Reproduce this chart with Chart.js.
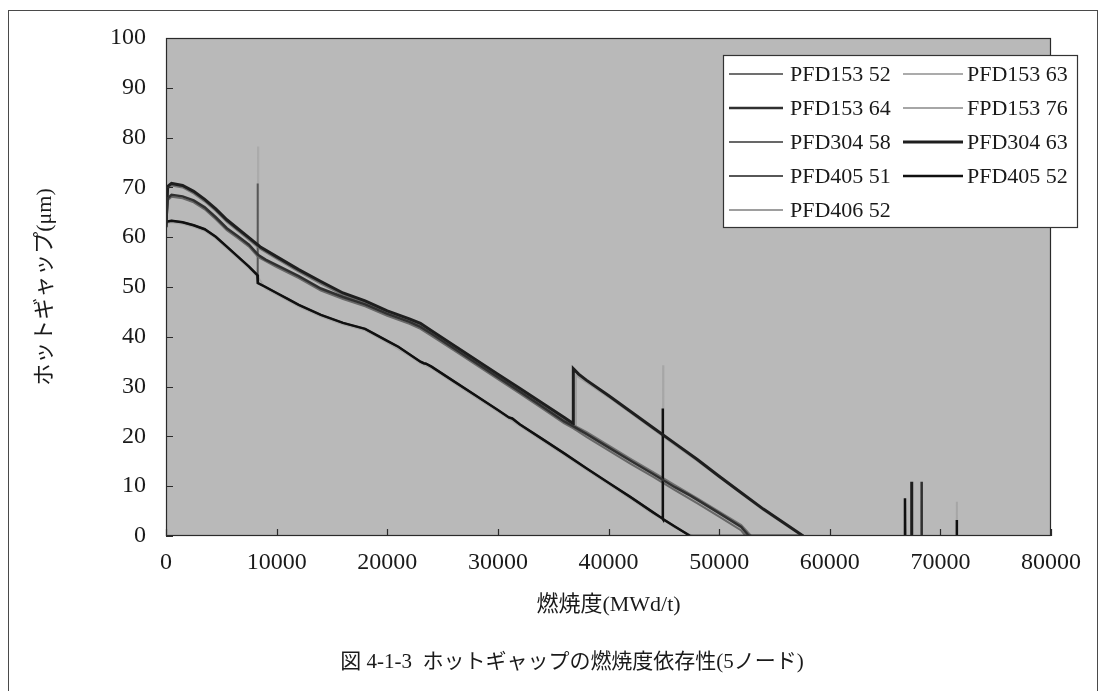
<!DOCTYPE html>
<html>
<head>
<meta charset="utf-8">
<script src="https://cdn.jsdelivr.net/npm/chart.js@4.4.1/dist/chart.umd.min.js"></script>
<style>
  html, body { margin: 0; padding: 0; background: #fff; }
  #wrap { width: 1105px; height: 691px; position: relative; }
</style>
</head>
<body>
<div id="wrap"><canvas id="c" width="1105" height="691"></canvas></div>
<script>
// Burnup (MWd/t) and hot gap (μm) per fuel rod, 5th node.
const bu_153_52 = [0,150,500,1500,2500,3500,4500,5500,6500,7500,8500,10000,12000,14000,16000,18000,20000,22000,23000,24000,26000,28000,30000,32000,34000,36000,36800,38000,40000,42000,44000,46000,48000,50000,52000,52900];
const gap_153_52 = [62.0,69.8,70.4,70.0,68.8,67.2,65.3,63.1,61.3,59.5,57.7,55.7,53.1,50.7,48.4,46.8,44.8,43.2,42.3,40.8,37.9,35.0,32.1,29.2,26.3,23.4,22.3,20.9,18.2,15.5,12.9,10.2,7.6,4.9,2.2,0];

const bu_153_63 = [0,150,500,1500,2500,3500,4500,5500,6500,7500,8300,8320,8340,10000,12000,14000,16000,18000,20000,22000,23000,24000,26000,28000,30000,32000,34000,36000,36830,38000,40000,42000,44000,46000,48000,50000,52000,52800];
const gap_153_63 = [61.8,67.5,68.2,67.9,67.1,65.7,63.7,61.5,59.9,58.2,56.6,78.2,56.4,54.2,52.0,49.5,47.8,46.3,44.4,42.8,41.8,40.4,37.5,34.6,31.7,28.8,25.8,22.8,21.8,20.3,17.6,14.9,12.3,9.6,7.1,4.4,1.6,0];

const bu_153_64 = [0,150,500,1500,2500,3500,4500,5500,6500,7500,8350,9000,10000,12000,14000,16000,18000,20000,22000,23000,24000,26000,28000,30000,32000,34000,36000,36830,38000,40000,42000,44000,46000,47400,48000,50000,52000,52700,57600,60000,68280,68300,68320];
const gap_153_64 = [62.0,67.8,68.5,68.2,67.4,66.0,64.0,61.8,60.2,58.5,56.4,55.5,54.4,52.2,49.7,48.0,46.5,44.6,43.0,42.0,40.6,37.7,34.8,31.9,29.0,26.0,23.0,22.0,20.5,17.8,15.1,12.5,9.8,8.1,7.3,4.6,1.8,0,0,null,0,10.9,0];

const bu_153_76 = [0,500,1500,2500,3500,4500,5500,6500,7500,8300,9000,10000,12000,14000,16000,18000,20000,22000,23000,24000,26000,28000,30000,32000,34000,36000,38000,40000,42000,44000,44920,44940,44960,46000,47600,50000,68300,68320,68340,70000,71460,71480,71500];
const gap_153_76 = [62.8,63.0,62.7,62.1,61.3,59.8,57.8,55.8,53.8,52.0,49.7,48.5,46.1,44.1,42.5,41.3,38.9,36.2,34.7,33.7,30.8,27.9,25.0,22.1,19.2,16.3,13.3,10.4,7.5,4.5,3.3,34.3,3.2,1.7,0,null,0,6.2,0,null,0,6.9,0];

const bu_304_58 = [0,150,500,1500,2500,3500,4500,5500,6500,7500,8350,10000,12000,14000,16000,18000,20000,22000,23000,24000,26000,28000,30000,32000,34000,36000,36830,38000,40000,42000,44000,46000,48000,50000,52000,52400];
const gap_304_58 = [61.8,67.4,68.1,67.8,67.0,65.6,63.6,61.4,59.8,58.1,56.0,54.0,51.8,49.3,47.6,46.1,44.2,42.6,41.6,40.2,37.3,34.4,31.5,28.6,25.6,22.6,21.6,19.9,17.2,14.5,11.9,9.2,6.6,3.9,1.1,0];

const bu_304_63 = [0,150,500,1500,2500,3500,4500,5500,6500,7500,8500,10000,12000,14000,16000,18000,20000,22000,23000,24000,26000,28000,30000,32000,34000,36000,36800,36820,37300,38000,40000,42000,44000,46000,48000,50000,52000,54000,56000,57600,60000,67380,67400,67420];
const gap_304_63 = [62.0,70.2,70.8,70.4,69.2,67.6,65.7,63.5,61.7,59.9,58.1,56.1,53.5,51.1,48.8,47.2,45.2,43.6,42.7,41.2,38.3,35.4,32.5,29.6,26.7,23.8,22.6,33.6,32.5,31.3,28.2,25.0,21.8,18.6,15.4,12.0,8.7,5.4,2.4,0,null,0,10.9,0];

const bu_405_51 = [0,500,1500,2500,3500,4500,5500,6500,7500,8260,8280,8300,9000,10000,11000,12000,14000,16000,18000,19000,20000,21000,22000,23000,23300,23500,24000,26000,28000,30000,31000,31300,32000,34000,36000,38000,40000,42000,44000,46000,47400,57600];
const gap_405_51 = [63.1,63.3,63.0,62.4,61.6,60.1,58.1,56.1,54.1,52.4,70.8,50.8,50.0,48.8,47.6,46.4,44.4,42.8,41.6,40.4,39.2,38.0,36.5,35.0,34.7,34.6,34.0,31.1,28.2,25.3,23.8,23.6,22.4,19.5,16.6,13.6,10.7,7.8,4.8,1.9,0,0];

const bu_405_52 = [0,500,1500,2500,3500,4500,5500,6500,7500,8260,8300,9000,10000,11000,12000,14000,16000,18000,19000,20000,21000,22000,23000,23300,23500,24000,26000,28000,30000,31000,31300,32000,34000,36000,38000,40000,42000,44000,44880,44900,44920,46000,47400,57600,60000,66780,66800,66820,70000,71460,71480,71500];
const gap_405_52 = [63.1,63.3,63.0,62.4,61.6,60.1,58.1,56.1,54.1,52.4,50.8,50.0,48.8,47.6,46.4,44.4,42.8,41.6,40.4,39.2,38.0,36.5,35.0,34.7,34.6,34.0,31.1,28.2,25.3,23.8,23.6,22.4,19.5,16.6,13.6,10.7,7.8,4.8,3.5,25.6,3.4,1.9,0,0,null,0,7.6,0,null,0,3.2,0];

const bu_406_52 = [0,150,500,1500,2500,3500,4500,5500,6500,7500,8500,10000,12000,14000,16000,18000,20000,22000,23000,24000,26000,28000,30000,32000,34000,36000,37040,37060,37500,38000,40000,42000,44000,46000,48000,50000,52000,54000,56000,57500];
const gap_406_52 = [61.9,70.0,70.6,70.2,69.0,67.4,65.5,63.3,61.5,59.7,57.9,55.9,53.3,50.9,48.6,47.0,45.0,43.4,42.5,40.6,37.7,34.8,31.9,29.0,26.1,23.0,21.3,32.3,31.6,30.9,27.9,24.7,21.5,18.3,15.1,11.8,8.5,5.2,2.2,0];

const seriesLabels = ['PFD153 52','PFD153 63','PFD153 64','FPD153 76','PFD304 58','PFD304 63','PFD405 51','PFD405 52','PFD406 52'];
const seriesBurnup = [bu_153_52, bu_153_63, bu_153_64, bu_153_76, bu_304_58, bu_304_63, bu_405_51, bu_405_52, bu_406_52];
const seriesGap    = [gap_153_52, gap_153_63, gap_153_64, gap_153_76, gap_304_58, gap_304_63, gap_405_51, gap_405_52, gap_406_52];

// Line styling (grey shades of the printed figure)
const lineColors = ['#707070','#ababab','#303030','#a6a6a6','#686868','#1e1e1e','#575757','#101010','#9e9e9e'];
const lineWidths = [2, 2, 2.5, 2, 2, 3, 2, 2.5, 2];
const drawOrder  = [1, 2, 0, 2, 1, 0, 1, 0, 2];

const xAxisTitle = '燃焼度(MWd/t)';
const yAxisTitle = 'ホットギャップ(μm)';
const caption = '図 4-1-3  ホットギャップの燃焼度依存性(5ノード)';

const SERIF = '"Liberation Serif", "Noto Sans CJK JP", serif';
const INK = '#1a1a1a';

const datasets = seriesLabels.map((label, i) => ({
  label,
  data: seriesBurnup[i].map((x, k) => ({ x, y: seriesGap[i][k] })),
  borderColor: lineColors[i],
  backgroundColor: lineColors[i],
  borderWidth: lineWidths[i],
  order: drawOrder[i],
  pointRadius: 0,
  tension: 0,
  spanGaps: false,
  fill: false
}));

// Page frame, plot background, plot border with inward tick marks
const framePlugin = {
  id: 'frame',
  beforeDraw(chart) {
    const { ctx, chartArea: a } = chart;
    ctx.save();
    ctx.fillStyle = '#fff';
    ctx.fillRect(0, 0, chart.width, chart.height);
    ctx.fillStyle = '#b9b9b9';
    ctx.fillRect(a.left, a.top, a.right - a.left, a.bottom - a.top);
    ctx.strokeStyle = '#4a4a4a';
    ctx.lineWidth = 1;
    ctx.strokeRect(8.5, 10.5, 1089, 700);
    ctx.restore();
  },
  afterDatasetsDraw(chart) {
    const { ctx, chartArea: a, scales } = chart;
    ctx.save();
    ctx.strokeStyle = '#2a2a2a';
    ctx.lineWidth = 1.2;
    ctx.strokeRect(a.left + 0.5, a.top + 0.5, a.right - a.left - 1, a.bottom - a.top - 1);
    ctx.beginPath();
    scales.y.ticks.forEach(t => {
      const py = Math.round(scales.y.getPixelForValue(t.value)) + 0.5;
      ctx.moveTo(a.left, py); ctx.lineTo(a.left + 7, py);
    });
    scales.x.ticks.forEach(t => {
      const px = Math.round(scales.x.getPixelForValue(t.value)) + 0.5;
      ctx.moveTo(px, a.bottom); ctx.lineTo(px, a.bottom - 7);
    });
    ctx.stroke();
    ctx.restore();
  }
};

// Two-column boxed legend in the upper right of the plot
const legendPlugin = {
  id: 'boxLegend',
  afterDraw(chart) {
    const { ctx, chartArea: a } = chart;
    const bx = a.right - 328, by = a.top + 17, bw = 354, bh = 172;
    ctx.save();
    ctx.fillStyle = '#fff';
    ctx.fillRect(bx, by, bw, bh);
    ctx.strokeStyle = '#333';
    ctx.lineWidth = 1.2;
    ctx.strokeRect(bx + 0.5, by + 0.5, bw, bh);
    ctx.font = '22px ' + SERIF;
    ctx.textBaseline = 'middle';
    ctx.fillStyle = INK;
    chart.data.datasets.forEach((ds, i) => {
      const col = i % 2, row = Math.floor(i / 2);
      const y = by + 19 + row * 34;
      const lx0 = col === 0 ? bx + 6 : bx + 180;
      const lx1 = col === 0 ? bx + 60 : bx + 240;
      const tx = col === 0 ? bx + 67 : bx + 244;
      ctx.strokeStyle = ds.borderColor;
      ctx.lineWidth = ds.borderWidth;
      ctx.beginPath();
      ctx.moveTo(lx0, y); ctx.lineTo(lx1, y);
      ctx.stroke();
      ctx.fillText(ds.label, tx, y + 1);
    });
    ctx.restore();
  }
};

// Figure caption under the axis title
const captionPlugin = {
  id: 'caption',
  afterDraw(chart) {
    const { ctx } = chart;
    ctx.save();
    ctx.font = '21px ' + SERIF;
    ctx.fillStyle = INK;
    ctx.textAlign = 'center';
    ctx.textBaseline = 'middle';
    ctx.fillText(caption, 572, 662);
    ctx.restore();
  }
};

new Chart(document.getElementById('c'), {
  type: 'line',
  data: { datasets },
  plugins: [framePlugin, legendPlugin, captionPlugin],
  options: {
    responsive: false,
    animation: false,
    devicePixelRatio: 1,
    layout: { padding: { left: 0, right: 54, top: 38, bottom: 0 } },
    plugins: { legend: { display: false }, tooltip: { enabled: false }, title: { display: false } },
    elements: { point: { radius: 0 }, line: { tension: 0 } },
    scales: {
      x: {
        type: 'linear', min: 0, max: 80000,
        grid: { display: false, drawTicks: false },
        border: { display: false },
        ticks: {
          stepSize: 10000, padding: 12, maxRotation: 0, autoSkip: false,
          color: INK, font: { family: SERIF, size: 24 },
          callback: v => String(v)
        },
        title: {
          display: true, text: xAxisTitle, color: INK,
          font: { family: SERIF, size: 22 }, padding: { top: 0, bottom: 73 }
        },
        afterFit(s) { s.height = 155; }
      },
      y: {
        type: 'linear', min: 0, max: 100,
        grid: { display: false, drawTicks: false },
        border: { display: false },
        ticks: {
          stepSize: 10, padding: 20,
          color: INK, font: { family: SERIF, size: 24 }
        },
        title: {
          display: true, text: yAxisTitle, color: INK,
          font: { family: SERIF, size: 22 }, padding: { top: 32, bottom: 0 }
        },
        afterFit(s) { s.width = 166; }
      }
    }
  }
});
</script>
</body>
</html>
